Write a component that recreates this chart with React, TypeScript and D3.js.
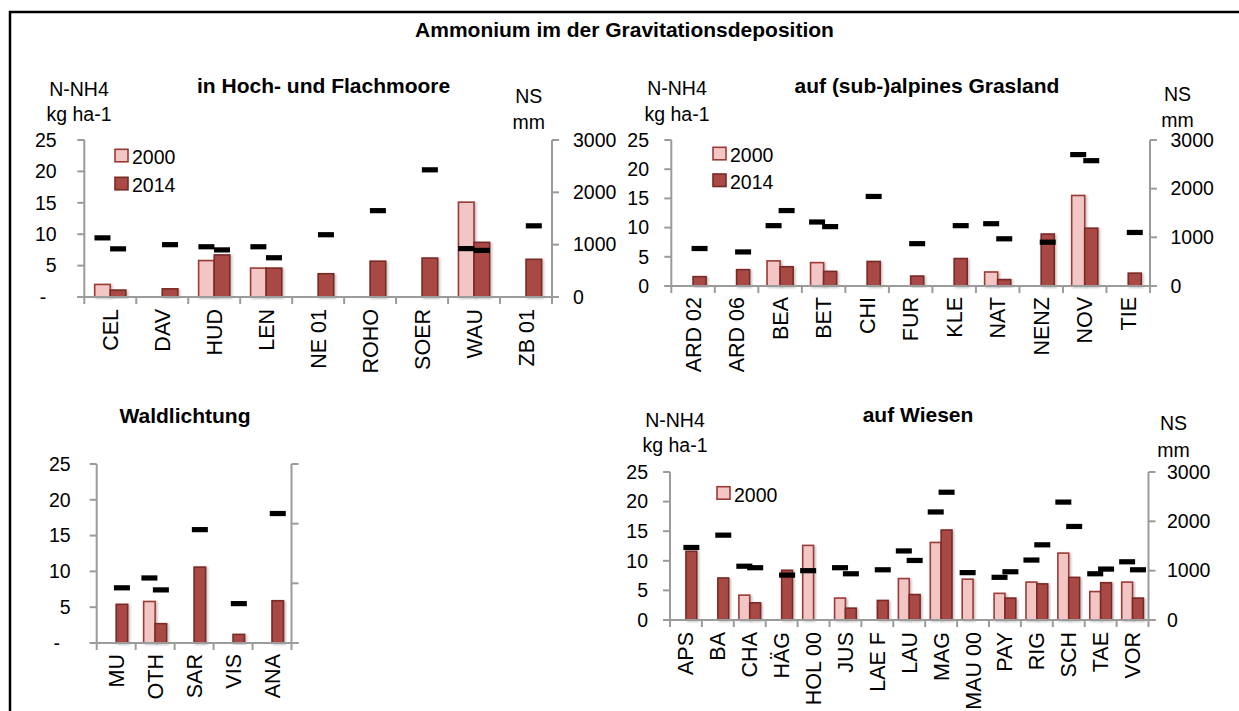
import * as d3 from "d3";

// ---- data ----
const moorCats = ["CEL", "DAV", "HUD", "LEN", "NE 01", "ROHO", "SOER", "WAU", "ZB 01"];
const moorNh4_2000 = [2.0, null, 5.8, 4.6, null, null, null, 15.1, null];
const moorNh4_2014 = [1.1, 1.3, 6.7, 4.6, 3.7, 5.7, 6.2, 8.7, 6.0];
const moorNs_2000 = [1130, null, 960, 960, null, null, null, 925, null];
const moorNs_2014 = [920, 1000, 900, 750, 1190, 1650, 2430, 890, 1360];

const alpCats = ["ARD 02", "ARD 06", "BEA", "BET", "CHI", "FUR", "KLE", "NAT", "NENZ", "NOV", "TIE"];
const alpNh4_2000 = [null, null, 4.3, 4.0, null, null, null, 2.4, null, 15.5, null];
const alpNh4_2014 = [1.6, 2.8, 3.3, 2.5, 4.2, 1.7, 4.7, 1.1, 8.9, 9.9, 2.2];
const alpNs_2000 = [null, null, 1240, 1315, null, null, null, 1280, null, 2700, null];
const alpNs_2014 = [770, 700, 1550, 1220, 1840, 870, 1240, 970, 900, 2575, 1100];

const waldCats = ["MU", "OTH", "SAR", "VIS", "ANA"];
const waldNh4_2000 = [null, 5.8, null, null, null];
const waldNh4_2014 = [5.4, 2.7, 10.6, 1.2, 5.9];
const waldNs_2000 = [null, 1090, null, null, null];
const waldNs_2014 = [925, 890, 1900, 660, 2170];

const wieCats = ["APS", "BA", "CHA", "HÄG", "HOL 00", "JUS", "LAE F", "LAU", "MAG", "MAU 00", "PAY", "RIG", "SCH", "TAE", "VOR"];
const wieNh4_2000 = [null, null, 4.2, null, 12.6, 3.7, null, 7.0, 13.1, 6.9, 4.5, 6.4, 11.3, 4.8, 6.4];
const wieNh4_2014 = [11.6, 7.1, 2.9, 8.4, null, 2.0, 3.3, 4.3, 15.2, null, 3.7, 6.1, 7.2, 6.3, 3.7];
const wieNs_2000 = [null, null, 1090, null, 1000, 1060, null, 1400, 2190, 960, 865, 1215, 2390, 937, 1180];
const wieNs_2014 = [1470, 1720, 1060, 910, null, 937, 1018, 1207, 2590, null, 978, 1524, 1896, 1032, 1018];

const series = ["2000", "2014"];
const nh4Ticks = [0, 5, 10, 15, 20, 25];
const nsTicks = [0, 1000, 2000, 3000];

const FONT = "'Liberation Sans', Arial, sans-serif";
const AXIS = "#9b9b9b";
const fills: Record<string, string> = { "2000": "#f2c6c5", "2014": "#a94a44" };
const strokes: Record<string, string> = { "2000": "#9c3b36", "2014": "#7a2a26" };

type PanelProps = {
  cats: string[];
  nh4: (number | null)[][];
  ns: (number | null)[][];
  x0: number; x1: number; yBase: number; yTop: number;
  pair: number;
  leftLabelX: number;
  dashX?: number;
  rightLabelX?: number;
  units?: { left: [number, number, number]; right: [number, number, number] };
  title: { x: number; y: number; text: string };
  legend?: { x: number; ys: number[] };
  catLabelY: number;
};

function Panel(p: PanelProps) {
  const x = d3.scaleBand().domain(p.cats).range([p.x0, p.x1]).padding(0);
  const bw = x.bandwidth();
  const pw = bw * p.pair;
  const inner = d3.scaleBand().domain(series).range([-pw / 2, pw / 2]).padding(0);
  const y = d3.scaleLinear().domain([0, 25]).range([p.yBase, p.yTop]);
  const yNs = d3.scaleLinear().domain([0, 3000]).range([p.yBase, p.yTop]);
  const cx = (c: string) => (x(c) as number) + bw / 2;
  const bounds = [...p.cats.map((c) => x(c) as number), p.x1];

  return (
    <g fontFamily={FONT}>
      <text x={p.title.x} y={p.title.y} textAnchor="middle" fontSize={21} fontWeight="bold">{p.title.text}</text>
      {p.units && (
        <g fontSize={19.5}>
          <text x={p.units.left[0]} y={p.units.left[1]} textAnchor="middle">N-NH4</text>
          <text x={p.units.left[0]} y={p.units.left[2]} textAnchor="middle">kg ha-1</text>
          <text x={p.units.right[0]} y={p.units.right[1]} textAnchor="middle">NS</text>
          <text x={p.units.right[0]} y={p.units.right[2]} textAnchor="middle">mm</text>
        </g>
      )}
      {/* bars */}
      {series.map((s, si) =>
        p.cats.map((c, i) => {
          const v = p.nh4[si][i];
          if (v == null) return null;
          const bx = cx(c) + (inner(s) as number);
          return (
            <rect key={s + c} x={bx} y={y(v)} width={inner.bandwidth()} height={p.yBase - y(v)}
              fill={fills[s]} stroke={strokes[s]} strokeWidth={1.6} filter="url(#shadow)" />
          );
        })
      )}
      {/* axes */}
      <line x1={p.x0} x2={p.x0} y1={p.yTop} y2={p.yBase} stroke={AXIS} strokeWidth={2} />
      <line x1={p.x1} x2={p.x1} y1={p.yTop} y2={p.yBase} stroke={AXIS} strokeWidth={2} />
      <line x1={p.x0 - 7} x2={p.x1 + 7} y1={p.yBase} y2={p.yBase} stroke={AXIS} strokeWidth={2} />
      {nh4Ticks.map((t) => (
        <g key={"l" + t}>
          <line x1={p.x0 - 7} x2={p.x0} y1={y(t)} y2={y(t)} stroke={AXIS} strokeWidth={2} />
          {t === 0 && p.dashX != null ? (
            <text x={p.dashX} y={y(t)} dy="0.35em" textAnchor="middle" fontSize={19.5}>-</text>
          ) : (
            <text x={p.leftLabelX} y={y(t)} dy="0.35em" textAnchor="end" fontSize={19.5}>{t}</text>
          )}
        </g>
      ))}
      {nsTicks.map((t) => (
        <g key={"r" + t}>
          <line x1={p.x1} x2={p.x1 + 7} y1={yNs(t)} y2={yNs(t)} stroke={AXIS} strokeWidth={2} />
          {p.rightLabelX != null && (
            <text x={p.rightLabelX} y={yNs(t)} dy="0.35em" textAnchor="start" fontSize={19.5}>{t}</text>
          )}
        </g>
      ))}
      {bounds.map((b, i) => (
        <line key={"b" + i} x1={b} x2={b} y1={p.yBase} y2={p.yBase + 7} stroke={AXIS} strokeWidth={2} />
      ))}
      {p.cats.map((c) => (
        <text key={"c" + c} transform={`translate(${cx(c)},${p.catLabelY}) rotate(-90)`}
          textAnchor="end" dy="0.35em" fontSize={21.5}>{c}</text>
      ))}
      {/* precipitation markers */}
      {series.map((s, si) =>
        p.cats.map((c, i) => {
          const v = p.ns[si][i];
          if (v == null) return null;
          const mx = cx(c) + (inner(s) as number) + inner.bandwidth() / 2;
          return <rect key={"m" + s + c} x={mx - 8} y={yNs(v) - 2.6} width={16} height={5.2} fill="#000" />;
        })
      )}
      {p.legend && p.legend.ys.map((ly, i) => (
        <g key={"lg" + i}>
          <rect x={p.legend!.x} y={ly} width={13} height={12.5} fill={fills[series[i]]} stroke={strokes[series[i]]} strokeWidth={1.6} />
          <text x={p.legend!.x + 17} y={ly + 15} fontSize={19.5}>{series[i]}</text>
        </g>
      ))}
    </g>
  );
}

export default function App() {
  return (
    <svg width={1239} height={711} style={{ position: "absolute", left: 0, top: 0, background: "#fff" }}>
      <defs>
        <filter id="shadow" x="-30%" y="-10%" width="160%" height="130%">
          <feDropShadow dx={1.5} dy={1} stdDeviation={1} floodColor="#000" floodOpacity={0.25} />
        </filter>
      </defs>
      <rect x={0} y={0} width={1239} height={711} fill="#fff" />
      <rect x={10} y={12} width={1250} height={720} fill="none" stroke="#000" strokeWidth={2.5} />
      <text x={624.5} y={37} textAnchor="middle" fontFamily={FONT} fontSize={21} fontWeight="bold">
        Ammonium im der Gravitationsdeposition
      </text>
      <Panel cats={moorCats} nh4={[moorNh4_2000, moorNh4_2014]} ns={[moorNs_2000, moorNs_2014]}
        x0={84.3} x1={552} yBase={297} yTop={140} pair={0.6} leftLabelX={56.6} dashX={43}
        rightLabelX={573} units={{ left: [79, 96, 121], right: [528.7, 103, 129] }}
        title={{ x: 323.6, y: 93, text: "in Hoch- und Flachmoore" }}
        legend={{ x: 115, ys: [149.3, 177.3] }} catLabelY={309} />
      <Panel cats={alpCats} nh4={[alpNh4_2000, alpNh4_2014]} ns={[alpNs_2000, alpNs_2014]}
        x0={671.3} x1={1150} yBase={286} yTop={140} pair={0.6} leftLabelX={649}
        rightLabelX={1170.5} units={{ left: [677, 95, 121], right: [1177.5, 101, 127] }}
        title={{ x: 927, y: 93, text: "auf (sub-)alpines Grasland" }}
        legend={{ x: 713, ys: [147.3, 174] }} catLabelY={297} />
      <Panel cats={waldCats} nh4={[waldNh4_2000, waldNh4_2014]} ns={[waldNs_2000, waldNs_2014]}
        x0={96.7} x1={291.5} yBase={643} yTop={464} pair={0.59} leftLabelX={70.7} dashX={56.7}
        title={{ x: 185, y: 423, text: "Waldlichtung" }} catLabelY={654} />
      <Panel cats={wieCats} nh4={[wieNh4_2000, wieNh4_2014]} ns={[wieNs_2000, wieNs_2014]}
        x0={670} x1={1148.5} yBase={620} yTop={472} pair={0.68} leftLabelX={648}
        rightLabelX={1167} units={{ left: [675, 427, 452], right: [1173.5, 430, 457] }}
        title={{ x: 918, y: 422, text: "auf Wiesen" }}
        legend={{ x: 717, ys: [486.7] }} catLabelY={632} />
    </svg>
  );
}
